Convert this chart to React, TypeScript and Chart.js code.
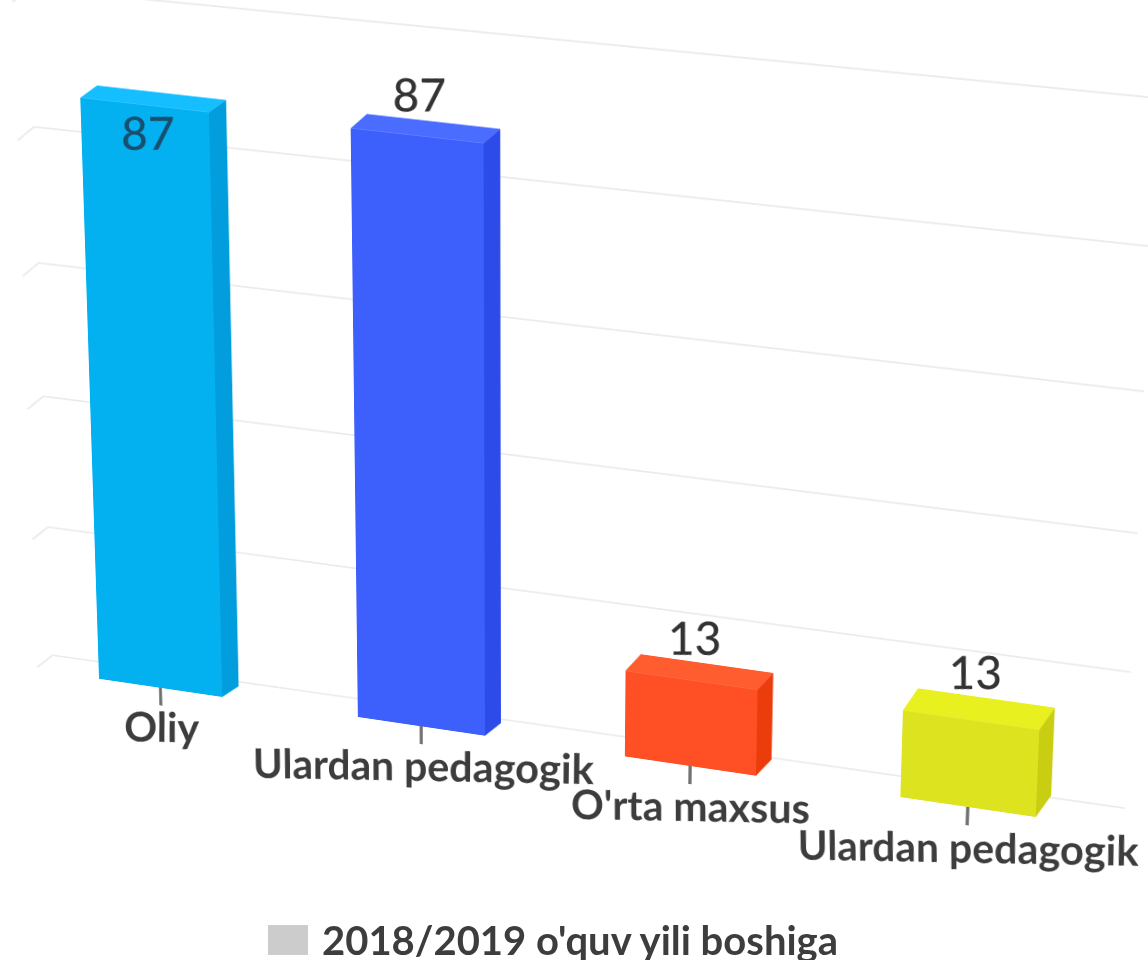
import React, { useEffect, useRef } from "react";
import { Chart, registerables } from "chart.js";

Chart.register(...registerables);

const categories = ["Oliy", "Ulardan pedagogik", "O'rta maxsus", "Ulardan pedagogik"];
const values = [87, 87, 13, 13];
const gridValues = [0, 20, 40, 60, 80, 100];
const seriesName = "2018/2019 o'quv yili boshiga";
const frontColors = ["#03B0F0", "#3D5FFB", "#FF4F25", "#DDE31E"];
const topColors = ["#14BEFF", "#4A6CFF", "#FF5C30", "#E9F020"];
const sideColors = ["#019DDD", "#2D4BE8", "#EB3D0C", "#C9CE12"];
const labelPlacement = ["inside", "above", "above", "above"];
const labelColors = ["#17506E", "#333333", "#333333", "#333333"];

// Screen quadrilateral that the plot rectangle (TL, TR, BR, BL) is seen as.
const viewQuad = [
  [8, -1],
  [1143, 121],
  [1110, 828],
  [33, 669],
];

function squareToQuad(q: number[][]) {
  const [[x0, y0], [x1, y1], [x2, y2], [x3, y3]] = q;
  const dx1 = x1 - x2, dx2 = x3 - x2, sx = x0 - x1 + x2 - x3;
  const dy1 = y1 - y2, dy2 = y3 - y2, sy = y0 - y1 + y2 - y3;
  const det = dx1 * dy2 - dx2 * dy1;
  const g = (sx * dy2 - dx2 * sy) / det;
  const h = (dx1 * sy - sx * dy1) / det;
  return {
    a: x1 - x0 + g * x1, b: x3 - x0 + h * x3, c: x0,
    d: y1 - y0 + g * y1, e: y3 - y0 + h * y3, f: y0,
    g, h,
  };
}

type Area = { left: number; top: number; right: number; bottom: number };

function homography(area: Area) {
  const m = squareToQuad(viewQuad);
  const sx = 1 / (area.right - area.left);
  const sy = 1 / (area.bottom - area.top);
  return {
    a: m.a * sx, b: m.b * sy, c: m.c - m.a * sx * area.left - m.b * sy * area.top,
    d: m.d * sx, e: m.e * sy, f: m.f - m.d * sx * area.left - m.e * sy * area.top,
    g: m.g * sx, h: m.h * sy, i: 1 - m.g * sx * area.left - m.h * sy * area.top,
  };
}

function perspectiveCss(area: Area) {
  const { a, b, c, d, e, f, g, h, i } = homography(area);
  return `matrix3d(${a},${d},0,${g},${b},${e},0,${h},0,0,1,0,${c},${f},0,${i})`;
}

// Draws text that stays nearly flat on screen although the canvas is seen in perspective.
function flatText(
  ctx: CanvasRenderingContext2D,
  area: Area,
  text: string,
  x: number,
  y: number,
  font: string,
  color: string,
  stretch: number,
  slope: number
) {
  const H = homography(area);
  const map = (px: number, py: number) => {
    const w = H.g * px + H.h * py + H.i;
    return [(H.a * px + H.b * py + H.c) / w, (H.d * px + H.e * py + H.f) / w];
  };
  const p0 = map(x, y), px = map(x + 1, y), py = map(x, y + 1);
  const j11 = px[0] - p0[0], j21 = px[1] - p0[1], j12 = py[0] - p0[0], j22 = py[1] - p0[1];
  const det = j11 * j22 - j12 * j21;
  const i11 = j22 / det, i12 = -j12 / det, i21 = -j21 / det, i22 = j11 / det;
  const t11 = stretch, t12 = 0, t21 = stretch * slope, t22 = 1;
  const m11 = i11 * t11 + i12 * t21, m12 = i11 * t12 + i12 * t22;
  const m21 = i21 * t11 + i22 * t21, m22 = i21 * t12 + i22 * t22;
  ctx.save();
  ctx.transform(m11, m21, m12, m22, x, y);
  ctx.font = font;
  ctx.textAlign = "center";
  ctx.textBaseline = "middle";
  ctx.fillStyle = color;
  ctx.fillText(text, 0, 0);
  ctx.restore();
}

const solidBars = {
  id: "solidBars",
  beforeDatasetsDraw(chart: any) {
    const { ctx, chartArea: area, scales } = chart;
    const y = scales.y;
    ctx.save();
    ctx.lineWidth = 2;
    ctx.strokeStyle = "#EBEBEB";
    gridValues.forEach((v) => {
      const p = y.getPixelForValue(v);
      const lift = -21 + (6 * v) / 100;
      ctx.beginPath();
      ctx.moveTo(area.left + 5, p + lift + 18);
      ctx.lineTo(area.left + 24, p + lift);
      ctx.lineTo(area.right + 14, p - 26);
      ctx.stroke();
    });
    ctx.restore();
  },
  afterDatasetsDraw(chart: any) {
    const { ctx, chartArea: area } = chart;
    const meta = chart.getDatasetMeta(0);
    ctx.save();
    meta.data.forEach((bar: any, i: number) => {
      const w = bar.width / 2;
      const f = (bar.x - area.left) / (area.right - area.left);
      const dx = 20 - 5.5 * f;
      const dy = -(16 + 16 * f * f);
      const l = bar.x - w, r = bar.x + w, t = bar.y, b = bar.base;
      ctx.fillStyle = sideColors[i];
      ctx.beginPath();
      ctx.moveTo(r, t);
      ctx.lineTo(r + dx, t + dy);
      ctx.lineTo(r + dx, b + dy);
      ctx.lineTo(r, b);
      ctx.closePath();
      ctx.fill();
      ctx.fillStyle = topColors[i];
      ctx.beginPath();
      ctx.moveTo(l, t);
      ctx.lineTo(l + dx, t + dy);
      ctx.lineTo(r + dx, t + dy);
      ctx.lineTo(r, t);
      ctx.closePath();
      ctx.fill();
      const ly = labelPlacement[i] === "inside" ? t + 34 : t + dy - 26;
      flatText(ctx, area, String(values[i]), bar.x + 3, ly, "500 46px Lato", labelColors[i], 1, 0);
    });
    const xs = chart.scales.x;
    xs.ticks.forEach((tick: any, i: number) => {
      flatText(
        ctx,
        area,
        String(xs.getLabelForValue(tick.value)),
        xs.getPixelForTick(i),
        xs.top + 51,
        "bold 41px Lato",
        "#3D3D3D",
        1,
        0.018
      );
    });
    ctx.restore();
  },
};

export default function App() {
  const ref = useRef<HTMLCanvasElement>(null);
  useEffect(() => {
    const canvas = ref.current!;
    const chart = new Chart(canvas, {
      type: "bar",
      data: {
        labels: categories,
        datasets: [
          {
            label: seriesName,
            data: values,
            backgroundColor: frontColors,
            barPercentage: 0.48,
            categoryPercentage: 1,
          },
        ],
      },
      options: {
        responsive: false,
        animation: false,
        devicePixelRatio: 2,
        layout: { padding: { left: 40, right: 60, top: 80, bottom: 200 } },
        plugins: { legend: { display: false }, tooltip: { enabled: false } },
        scales: {
          x: {
            border: { display: false },
            grid: {
              offset: false,
              drawOnChartArea: false,
              drawTicks: true,
              tickLength: 22,
              tickColor: "#707070",
              tickWidth: 3.5,
            },
            ticks: { display: false, autoSkip: false },
          },
          y: {
            display: false,
            min: 0,
            max: 100,
          },
        },
      },
      plugins: [solidBars],
    });
    canvas.style.transformOrigin = "0 0";
    canvas.style.transform = perspectiveCss(chart.chartArea);
    return () => chart.destroy();
  }, []);

  return (
    <div style={{ position: "fixed", inset: 0, overflow: "hidden", background: "#fff" }}>
      <canvas ref={ref} width={1300} height={1100} style={{ position: "absolute", left: 0, top: 0 }} />
      <div
        style={{
          position: "absolute",
          left: 268,
          top: 917,
          display: "flex",
          alignItems: "center",
          height: 46,
          fontFamily: "Lato",
          fontWeight: 700,
          fontSize: 40,
          color: "#3D3D3D",
          whiteSpace: "nowrap",
        }}
      >
        <span style={{ width: 40, height: 30, background: "#CCCCCC", marginRight: 14, display: "inline-block" }} />
        <span>{seriesName}</span>
      </div>
    </div>
  );
}
